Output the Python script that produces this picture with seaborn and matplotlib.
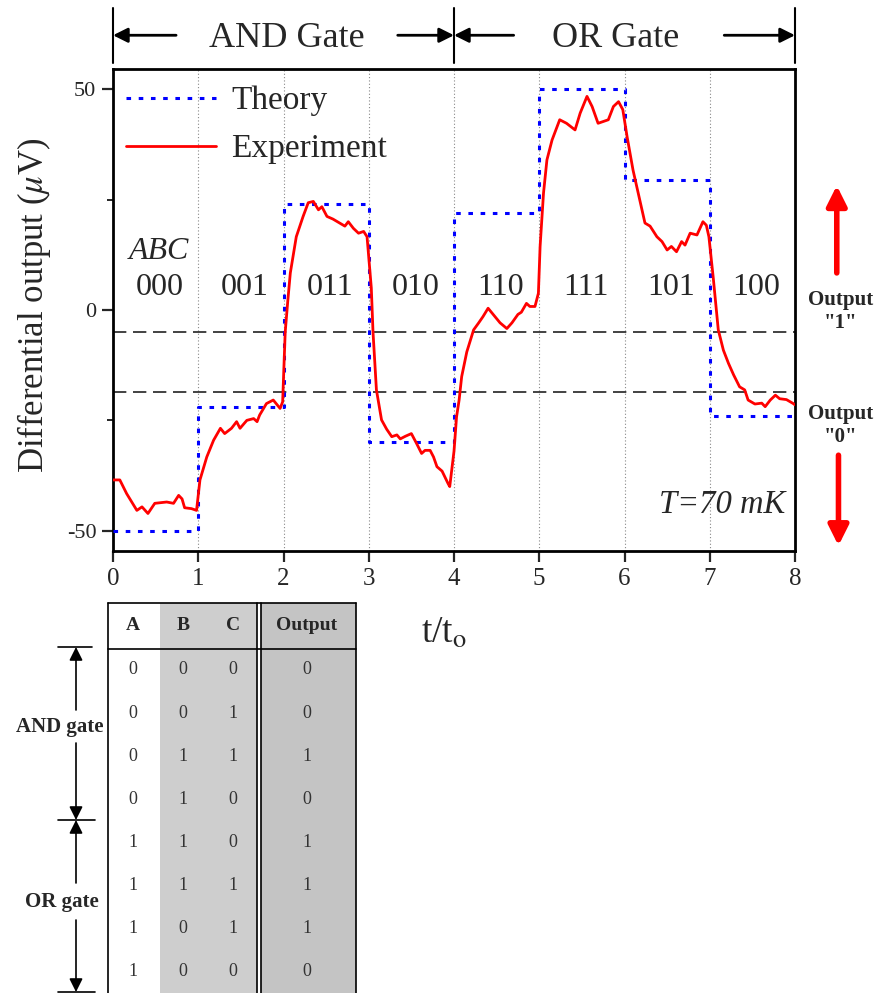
import matplotlib
matplotlib.use('Agg')
import matplotlib.pyplot as plt
from matplotlib.patches import Rectangle
import seaborn as sns

# ---- data ----
states = ['000', '001', '011', '010', '110', '111', '101', '100']
theory_steps = [-50, -22, 24, -30, 22, 50, 29.5, -24]

exp_t = [0.00, 0.08, 0.16, 0.28, 0.34, 0.41, 0.49, 0.63, 0.71, 0.77, 0.81, 0.84, 0.92, 0.98,
         1.02, 1.10, 1.18, 1.26, 1.31, 1.39, 1.45, 1.49, 1.57, 1.65, 1.69, 1.72, 1.80, 1.88, 1.96, 1.99,
         2.02, 2.05, 2.08, 2.15, 2.23, 2.29, 2.35, 2.41, 2.45, 2.51, 2.58, 2.66, 2.72, 2.76, 2.82, 2.88, 2.94, 2.98,
         3.03, 3.05, 3.09, 3.15, 3.21, 3.27, 3.33, 3.37, 3.43, 3.50, 3.56, 3.62, 3.66, 3.72, 3.76, 3.80, 3.86, 3.93, 3.95,
         4.00, 4.03, 4.06, 4.09, 4.15, 4.23, 4.29, 4.34, 4.40, 4.46, 4.54, 4.62, 4.68, 4.75, 4.79, 4.85, 4.89, 4.95, 4.99,
         5.01, 5.05, 5.09, 5.15, 5.24, 5.32, 5.42, 5.48, 5.56, 5.62, 5.69, 5.81, 5.87, 5.93, 5.98,
         6.03, 6.10, 6.18, 6.24, 6.30, 6.38, 6.44, 6.50, 6.55, 6.61, 6.67, 6.71, 6.77, 6.85, 6.92, 6.96, 6.99,
         7.04, 7.10, 7.16, 7.22, 7.28, 7.35, 7.41, 7.45, 7.53, 7.61, 7.65, 7.71, 7.77, 7.82, 7.90, 7.98, 8.00]
exp_v = [-38.5, -38.5, -41.6, -45.4, -44.6, -46.1, -43.8, -43.5, -43.8, -42.0, -42.8, -44.8, -45.0, -45.4,
         -38.5, -33.3, -29.5, -26.8, -28.0, -26.8, -25.3, -26.8, -25.0, -24.6, -25.3, -23.8, -21.2, -20.4, -22.3, -20.8,
         -5.0, 2.0, 8.4, 16.6, 21.2, 24.3, 24.6, 22.7, 23.4, 21.2, 20.6, 19.7, 19.0, 20.0, 18.5, 17.4, 17.8, 16.6,
         5.0, -5.0, -18.1, -24.9, -27.0, -28.7, -28.3, -29.2, -28.6, -28.0, -30.2, -32.5, -31.8, -31.8, -33.3, -35.5, -36.5, -39.3, -40.0,
         -32.0, -24.2, -20.4, -15.1, -9.5, -4.5, -2.9, -1.5, 0.4, -1.0, -2.9, -4.2, -2.9, -1.0, -0.5, 1.5, 0.8, 0.8, 3.8,
         14.4, 26.5, 34.0, 38.5, 43.1, 42.3, 40.8, 44.6, 48.4, 46.1, 42.3, 43.1, 46.1, 47.2, 45.4,
         39.3, 31.7, 24.9, 19.7, 19.0, 16.6, 15.5, 13.6, 14.4, 13.2, 15.5, 14.7, 17.4, 17.0, 20.0, 19.2, 16.6,
         7.5, -4.5, -9.1, -12.1, -14.7, -17.4, -18.1, -20.4, -21.3, -21.1, -21.9, -20.4, -19.3, -20.1, -20.3, -21.2, -21.5]

level_one = -5
level_zero = -18.5

table_A = [0, 0, 0, 0, 1, 1, 1, 1]
table_B = [0, 0, 1, 1, 1, 1, 0, 0]
table_C = [0, 1, 1, 0, 0, 1, 1, 0]
table_out = [0, 0, 1, 0, 1, 1, 1, 0]

# ---- style ----
sns.set_theme(style='ticks')
plt.rcParams['font.family'] = ['Liberation Serif', 'DejaVu Serif']
plt.rcParams['mathtext.fontset'] = 'stix'
plt.rcParams['axes.unicode_minus'] = False

fig = plt.figure(figsize=(8.93, 9.93), dpi=100)
fig.patch.set_facecolor('white')
ax = fig.add_axes([113 / 893, 1 - 551 / 993, 682 / 893, 482 / 993])

# guides
for k in range(1, 8):
    ax.axvline(k, color='#888888', ls=(0, (1, 2)), lw=0.8, zorder=1)
for lev in [level_one, level_zero]:
    ax.axhline(lev, color='#222222', lw=1.2, dashes=(8, 4), zorder=1)

# curves
theory_t = list(range(len(theory_steps) + 1))
theory_v = theory_steps + [theory_steps[-1]]
sns.lineplot(x=theory_t, y=theory_v, ax=ax, estimator=None, drawstyle='steps-post',
             color='#0000ff', lw=2.2, linestyle=(0, (1.5, 2.5)), label='Theory', zorder=3)
sns.lineplot(x=exp_t, y=exp_v, ax=ax, estimator=None, color='#ff0000', lw=2,
             label='Experiment', zorder=4)

ax.legend(loc='upper left', frameon=False, fontsize=24, handlelength=2.7,
          handletextpad=0.45, labelspacing=0.53, borderaxespad=0.1,
          bbox_to_anchor=(-0.005, 1.0))

ax.set_xlim(0, 8)
ax.set_ylim(-54.6, 54.6)
ax.set_xticks(range(9))
ax.set_yticks([-50, 0, 50])
ax.set_yticklabels(['-50', '0', '50'])
ax.set_yticks([-25, 25], minor=True)
ax.tick_params(axis='x', labelsize=18, direction='out', length=8, width=1.6, pad=4)
ax.tick_params(axis='y', labelsize=16, direction='out', length=8, width=1.6, pad=4)
ax.tick_params(axis='y', which='minor', direction='out', length=4, width=1.4)
for sp in ax.spines.values():
    sp.set_linewidth(2)
    sp.set_color('black')
ax.set_xlabel('t/t$_{\\rm o}$', fontsize=27)
ax.xaxis.set_label_coords(0.485, -0.135)
ax.set_ylabel('Differential output ($\\mu$V)', fontsize=25)
ax.yaxis.set_label_coords(-0.088, 0.51)

# state labels
for i, s in enumerate(states):
    ax.text(i + 0.55, 5, s, ha='center', va='center', fontsize=23)
ax.text(0.18, 13.2, 'ABC', style='italic', fontsize=23, va='center')
ax.text(7.88, -44.2, 'T=70 mK', style='italic', ha='right', va='center', fontsize=23.5)

# header with gate brackets
trans = ax.get_xaxis_transform()
for xv in [0, 4, 8]:
    ax.plot([xv, xv], [1.012, 1.127], transform=trans, color='black', lw=1.5, clip_on=False)
arrow_kw = dict(arrowstyle='-|>', color='black', lw=2, mutation_scale=22, shrinkA=0, shrinkB=0)
for tail, head in [(0.74, 0), (3.34, 4), (4.7, 4), (7.17, 8)]:
    ax.annotate('', xy=(head, 1.07), xytext=(tail, 1.07), xycoords=trans,
                arrowprops=arrow_kw, annotation_clip=False)
ax.text(2.04, 1.063, 'AND Gate', transform=trans, ha='center', va='center', fontsize=26)
ax.text(5.9, 1.063, 'OR Gate', transform=trans, ha='center', va='center', fontsize=26)

# right side output markers
ax.text(8.53, -0.3, 'Output\n"1"', ha='center', va='center', fontsize=15,
        fontweight='bold', linespacing=1.2, clip_on=False)
ax.text(8.53, -26.1, 'Output\n"0"', ha='center', va='center', fontsize=15,
        fontweight='bold', linespacing=1.2, clip_on=False)
red_kw = dict(arrowstyle='-|>', color='#ff0000', lw=4, mutation_scale=30, shrinkA=0, shrinkB=0)
ax.annotate('', xy=(8.49, 28.2), xytext=(8.49, 8.4), arrowprops=red_kw, annotation_clip=False)
ax.annotate('', xy=(8.51, -53.4), xytext=(8.51, -32.9), arrowprops=red_kw, annotation_clip=False)

# ---- truth table ----
tab = fig.add_axes([0, 0, 370 / 893, 393 / 993])
tab.set_xlim(0, 370)
tab.set_ylim(393, 0)
tab.axis('off')
tab.add_patch(Rectangle((160, 3), 97, 392, color='#cecece', lw=0))
tab.add_patch(Rectangle((261, 3), 95, 392, color='#c4c4c4', lw=0))
line_kw = dict(color='black', lw=1.2)
tab.plot([108, 356], [3, 3], **line_kw)
tab.plot([108, 356], [49, 49], **line_kw)
tab.plot([108, 108], [3, 393], **line_kw)
tab.plot([356, 356], [3, 393], **line_kw)
tab.plot([257, 257], [3, 393], **line_kw)
tab.plot([261, 261], [3, 393], **line_kw)

col_x = [133, 183, 233, 307]
for cx, name in zip(col_x, ['A', 'B', 'C', 'Output']):
    tab.text(cx, 26, name, ha='center', va='center', fontsize=14, fontweight='bold')
for i in range(len(table_A)):
    ry = 70 + 43.1 * i
    for cx, val in zip(col_x, [table_A[i], table_B[i], table_C[i], table_out[i]]):
        tab.text(cx, ry, str(val), ha='center', va='center', fontsize=13, color='#333333')

# gate brackets beside the table
for yy, x0, x1 in [(47, 58, 92), (220, 58, 95), (392, 58, 95)]:
    tab.plot([x0, x1], [yy, yy], color='black', lw=1.2, clip_on=False)
small_kw = dict(arrowstyle='-|>', color='black', lw=1.2, mutation_scale=20, shrinkA=0, shrinkB=0)
for tail, head in [(110, 47), (143, 220), (283, 220), (320, 392)]:
    tab.annotate('', xy=(76, head), xytext=(76, tail), arrowprops=small_kw, annotation_clip=False)
tab.text(60, 127, 'AND gate', ha='center', va='center', fontsize=15, fontweight='bold')
tab.text(62, 302, 'OR gate', ha='center', va='center', fontsize=15, fontweight='bold')

fig.savefig('out.png', dpi=100, facecolor='white')
